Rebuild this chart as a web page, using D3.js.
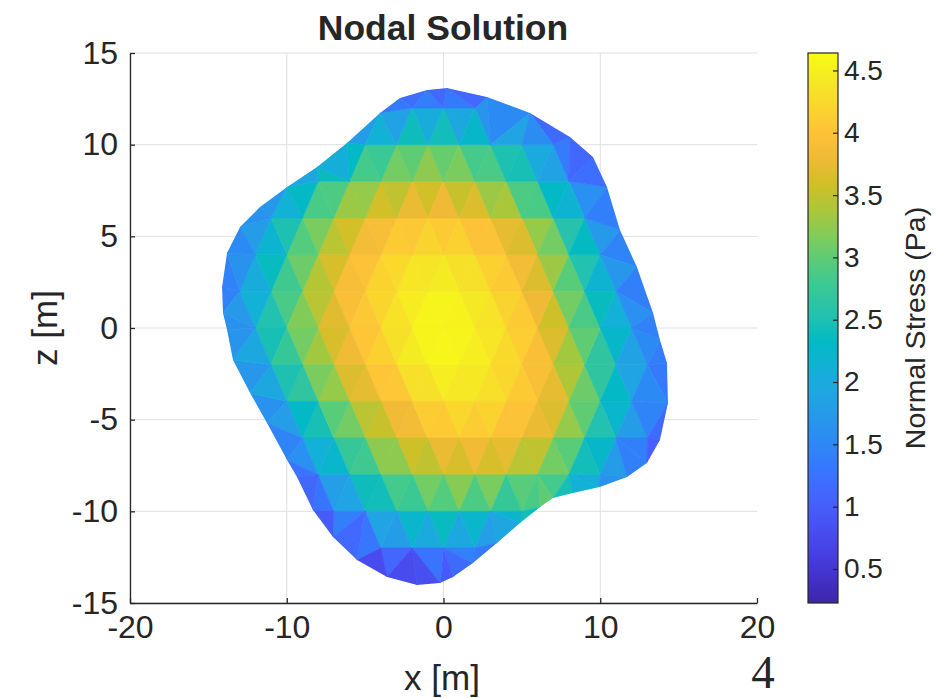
<!DOCTYPE html>
<html>
<head>
<meta charset="utf-8">
<script src="https://cdn.jsdelivr.net/npm/d3@7"></script>
<style>
  body { margin: 0; background: #fff; }
  text { font-family: "Liberation Sans", Arial, Helvetica, sans-serif; fill: #262626; }
</style>
</head>
<body>
<svg id="chart" width="943" height="698"></svg>
<script>
// axis ticks
const xTicks = [-20, -10, 0, 10, 20];
const zTicks = [-15, -10, -5, 0, 5, 10, 15];
const cbTicks = [0.5, 1, 1.5, 2, 2.5, 3, 3.5, 4, 4.5];
const cbRange = [0.227, 4.64];

// outline of the mesh (clockwise from the top), with nodal stress
const edgeX = [0.22, 2.78, 5.52, 8.07, 9.54, 10.43, 11.26, 12.34, 13.37, 13.81, 14.26, 14.32, 13.81, 12.98, 11.71, 9.98,
  8.26, 6.99, 6.16, 4.88, 3.41, 1.88, 0.61, -0.22, -1.69, -3.6, -5.52, -7.05, -8.33, -9.35, -9.98, -11.26,
  -12.34, -13.43, -13.81, -14.07, -14.13, -13.81, -12.98, -11.71, -9.98, -8.07, -6.16, -4.05, -2.78, -1.05];
const edgeZ = [13.09, 12.6, 11.73, 10.42, 9.33, 7.69, 5.35, 3.33, 0.82, -0.66, -1.91, -4.09, -6.11, -7.37, -8.13, -8.67,
  -9.0, -9.27, -9.77, -10.64, -11.73, -12.82, -13.58, -13.91, -14.02, -13.58, -12.66, -11.4, -9.93, -8.13, -7.2, -5.18,
  -3.55, -1.75, -0.11, 0.82, 2.24, 4.09, 5.51, 6.6, 7.69, 8.78, 10.09, 11.73, 12.55, 12.98];
const edgeS = [0.9, 1.0, 1.1, 0.85, 0.8, 1.1, 1.1, 1.2, 1.2, 1.3, 1.3, 1.2, 1.0, 0.8, 1.3, 1.7,
  2.1, 2.7, 3.1, 1.9, 1.4, 1.1, 0.7, 0.5, 0.35, 0.4, 0.6, 0.8, 0.75, 0.9, 1.2, 1.3,
  1.4, 1.4, 1.4, 1.3, 1.3, 1.3, 1.4, 1.5, 1.6, 1.7, 1.6, 1.3, 1.1, 0.9];

// interior nodes, rows of constant z, x stepping by 2 from rowX0
const rowZ = [12, 10, 8, 6, 4, 2, 0, -2, -4, -6, -8, -10, -12];
const rowX0 = [-2, -5, -8, -11, -12, -13, -12, -11, -10, -9, -8, -7, -4];
const rowS = [
  [1.6, 1.6, 1.5],
  [2.4, 2.7, 2.9, 2.8, 2.5, 2.1, 1.5],
  [2.5, 2.9, 3.2, 3.4, 3.4, 3.2, 2.9, 2.4, 1.7],
  [2.0, 2.8, 3.3, 3.7, 3.9, 4.0, 4.0, 3.8, 3.4, 2.8, 2.0],
  [1.9, 2.7, 3.3, 3.8, 4.1, 4.3, 4.3, 4.2, 4.0, 3.6, 2.9, 2.1],
  [1.7, 2.5, 3.2, 3.8, 4.1, 4.35, 4.55, 4.5, 4.3, 4.0, 3.4, 2.6, 1.8],
  [2.2, 2.9, 3.4, 3.9, 4.2, 4.5, 4.62, 4.5, 4.3, 4.0, 3.3, 2.7, 1.8],
  [2.3, 3.0, 3.6, 4.0, 4.3, 4.55, 4.55, 4.4, 4.1, 3.7, 3.0, 2.3, 1.5],
  [2.2, 2.8, 3.4, 3.8, 4.1, 4.35, 4.35, 4.2, 4.0, 3.5, 2.7, 1.9],
  [1.9, 2.7, 3.2, 3.6, 3.9, 4.0, 4.0, 3.8, 3.5, 2.8, 2.1, 1.3],
  [1.7, 2.3, 2.9, 3.2, 3.4, 3.5, 3.4, 3.2, 2.6, 1.9],
  [1.4, 2.0, 2.4, 2.7, 2.7, 2.5, 2.3],
  [1.3, 1.6, 1.7, 1.5]
];

// parula colormap samples
const parula = [
  [0.2422, 0.1504, 0.6603], [0.2647, 0.1978, 0.7952], [0.2783, 0.2559, 0.8991], [0.2810, 0.3228, 0.9579],
  [0.2699, 0.3892, 0.9906], [0.2206, 0.4603, 0.9973], [0.1786, 0.5289, 0.9682], [0.1540, 0.5902, 0.9218],
  [0.1248, 0.6459, 0.8883], [0.0689, 0.6948, 0.8394], [0.0067, 0.7312, 0.7660], [0.1408, 0.7584, 0.6842],
  [0.2161, 0.7843, 0.5923], [0.3406, 0.8008, 0.4789], [0.5044, 0.7993, 0.3480], [0.6720, 0.7793, 0.2227],
  [0.8203, 0.7498, 0.1535], [0.9393, 0.7288, 0.2100], [0.9970, 0.7659, 0.2199], [0.9786, 0.8386, 0.1766],
  [0.9597, 0.9135, 0.1423], [0.9769, 0.9839, 0.0805]
];

const svg = d3.select('#chart');
const x = d3.scaleLinear().domain([-20, 20]).range([130, 757]);
const y = d3.scaleLinear().domain([-15, 15]).range([603, 53]);

const parulaCss = parula.map(c => d3.rgb(c[0] * 255, c[1] * 255, c[2] * 255).toString());
const color = d3.scaleLinear()
  .domain(parula.map((c, i) => cbRange[0] + i / (parula.length - 1) * (cbRange[1] - cbRange[0])))
  .range(parulaCss)
  .interpolate(d3.interpolateRgb)
  .clamp(true);

// grid (no line at the right edge, as in the original)
const grid = svg.append('g').attr('stroke', '#e0e0e0').attr('stroke-width', 1);
grid.selectAll('.gx').data(xTicks.slice(0, -1)).enter().append('line')
  .attr('x1', d => x(d)).attr('x2', d => x(d)).attr('y1', y(-15)).attr('y2', y(15));
grid.selectAll('.gz').data(zTicks).enter().append('line')
  .attr('x1', x(-20)).attr('x2', x(20)).attr('y1', d => y(d)).attr('y2', d => y(d));

// nodes
const nodes = [];
edgeX.forEach((v, i) => nodes.push({ x: v, z: edgeZ[i], s: edgeS[i] }));
rowZ.forEach((z, r) => {
  rowS[r].forEach((s, k) => nodes.push({ x: rowX0[r] + 2 * k, z: z, s: s }));
});
nodes.forEach(d => { d.px = x(d.x); d.py = y(d.z); });

const outline = edgeX.map((v, i) => [x(v), y(edgeZ[i])]);

svg.append('clipPath').attr('id', 'blob')
  .append('polygon').attr('points', outline.map(p => p.join(',')).join(' '));

const delaunay = d3.Delaunay.from(nodes, d => d.px, d => d.py);
const tris = [];
const t = delaunay.triangles;
for (let i = 0; i < t.length; i += 3) {
  const a = nodes[t[i]], b = nodes[t[i + 1]], c = nodes[t[i + 2]];
  const cx = (a.px + b.px + c.px) / 3, cy = (a.py + b.py + c.py) / 3;
  if (d3.polygonContains(outline, [cx, cy])) tris.push([a, b, c]);
}

svg.append('g').attr('clip-path', 'url(#blob)')
  .selectAll('path').data(tris).enter().append('path')
  .attr('d', d => 'M' + d.map(n => n.px + ',' + n.py).join('L') + 'Z')
  .attr('fill', d => color((d[0].s + d[1].s + d[2].s) / 3))
  .attr('stroke', d => color((d[0].s + d[1].s + d[2].s) / 3))
  .attr('stroke-width', 0.6)
  .attr('stroke-linejoin', 'round');

// axes
const xAxis = svg.append('g').attr('transform', `translate(0, ${y(-15)})`)
  .call(d3.axisBottom(x).tickValues(xTicks).tickFormat(d => String(d)).tickSizeInner(-5).tickSizeOuter(0).tickPadding(12));
const yAxis = svg.append('g').attr('transform', `translate(${x(-20)}, 0)`)
  .call(d3.axisLeft(y).tickValues(zTicks).tickFormat(d => String(d)).tickSizeInner(-5).tickSizeOuter(0).tickPadding(12));
[xAxis, yAxis].forEach(g => {
  g.attr('font-family', null).attr('font-size', null);
  g.selectAll('path, line').attr('stroke', '#262626').attr('stroke-width', 1.3);
  g.selectAll('text').style('font-size', '32px').attr('fill', '#262626');
});

svg.append('text').attr('x', 442).attr('y', 690).attr('text-anchor', 'middle')
  .style('font-size', '35px').text('x [m]');
svg.append('text').attr('transform', 'translate(57, 328) rotate(-90)').attr('text-anchor', 'middle')
  .style('font-size', '35px').text('z [m]');
svg.append('text').attr('x', 443).attr('y', 40).attr('text-anchor', 'middle')
  .style('font-size', '35.5px').style('font-weight', 'bold').attr('fill', '#000').text('Nodal Solution');

// colorbar
const cb = d3.scaleLinear().domain(cbRange).range([603, 53]);
const grad = svg.append('defs').append('linearGradient').attr('id', 'parula')
  .attr('x1', 0).attr('y1', 1).attr('x2', 0).attr('y2', 0);
grad.selectAll('stop').data(parulaCss).enter().append('stop')
  .attr('offset', (d, i) => i / (parulaCss.length - 1))
  .attr('stop-color', d => d);
svg.append('rect').attr('x', 808).attr('y', cb.range()[1]).attr('width', 30).attr('height', cb.range()[0] - cb.range()[1])
  .attr('fill', 'url(#parula)').attr('stroke', '#262626').attr('stroke-width', 1.2);
const cbAxis = svg.append('g').attr('transform', 'translate(838, 0)')
  .call(d3.axisRight(cb).tickValues(cbTicks).tickFormat(d => String(d)).tickSizeInner(-5).tickSizeOuter(0).tickPadding(6));
cbAxis.attr('font-family', null).attr('font-size', null);
cbAxis.select('.domain').remove();
cbAxis.selectAll('line').attr('stroke', '#262626').attr('stroke-width', 1.2);
cbAxis.selectAll('text').style('font-size', '28px').attr('fill', '#262626');

svg.append('text').attr('transform', 'translate(925, 328) rotate(-90)').attr('text-anchor', 'middle')
  .style('font-size', '28.5px').text('Normal Stress (Pa)');

// slide number
svg.append('text').attr('x', 763).attr('y', 688).attr('text-anchor', 'middle')
  .style('font-family', '"Liberation Serif", "Times New Roman", serif').style('font-size', '47px').attr('fill', '#000').text('4');
</script>
</body>
</html>
